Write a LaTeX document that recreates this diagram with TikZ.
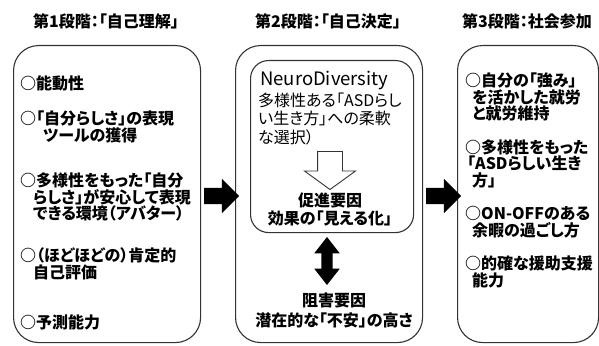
\documentclass[tikz,border=0pt]{standalone}
\usepackage{fontspec}
\setmainfont{Noto Sans CJK JP}[RawFeature=+palt]
\usetikzlibrary{shapes.arrows}
\begin{document}
\begin{tikzpicture}[x=1pt,y=-1pt]
\useasboundingbox (0,0) rectangle (599,345);
\tikzset{
  panel/.style={draw=black!80, line width=1.1pt, rounded corners=25pt, anchor=north west, inner sep=0pt},
  innerpanel/.style={draw=black!80, line width=1.1pt, rounded corners=18pt, anchor=north west, inner sep=0pt},
  bt/.style={anchor=base west, inner sep=0pt, font=\bfseries\fontsize{16}{17}\selectfont},
  nt/.style={anchor=base west, inner sep=0pt, font=\fontsize{16}{18}\selectfont},
  bc/.style={anchor=base, inner sep=0pt, font=\bfseries\fontsize{16}{17}\selectfont},
  ttl/.style={anchor=base, inner sep=0pt, font=\bfseries\fontsize{16}{17}\selectfont},
  bigarrow/.style={single arrow, fill=black, draw=none, inner xsep=0pt, inner ysep=8pt,
    single arrow head extend=9pt, single arrow head indent=0pt, single arrow tip angle=90,
    minimum height=35pt},
  hollowarrow/.style={single arrow, fill=white, draw=black!80, line width=0.9pt, inner xsep=0pt, inner ysep=12pt,
    single arrow head extend=13pt, single arrow head indent=0pt, single arrow tip angle=108,
    minimum height=38pt},
  updown/.style={double arrow, fill=black, draw=none, inner xsep=0pt, inner ysep=5.5pt,
    double arrow head extend=7pt, double arrow head indent=0pt, double arrow tip angle=76,
    minimum height=48pt}
}
% titles
\node[ttl] (t1) at (106,28) {第1段階：「自己理解」};
\node[ttl] (t2) at (328,28) {第2段階：「自己決定」};
\node[ttl] (t3) at (527,28) {第3段階：社会参加};
% panels
\node[panel, minimum width=187pt, minimum height=297pt] (p1) at (13,45) {};
\node[panel, minimum width=187pt, minimum height=297pt] (p2) at (235,45) {};
\node[innerpanel, minimum width=163pt, minimum height=172pt] (p2i) at (250,60) {};
\node[panel, minimum width=141pt, minimum height=297pt] (p3) at (457,45) {};
% panel 1 text
\node[bt] (a1) at (20,89) {○能動性};
\node[bt] (a2) at (20,124) {○「自分らしさ」の表現};
\node[bt] (a3) at (43,141) {ツールの獲得};
\node[bt] (a4) at (20,186) {○多様性をもった「自分};
\node[bt] (a5) at (33,203) {らしさ」が安心して表現};
\node[bt] (a6) at (33,219) {できる環境（アバター）};
\node[bt] (a7) at (20,261) {○（ほどほどの）肯定的};
\node[bt] (a8) at (33,278) {自己評価};
\node[bt] (a9) at (20,328) {○予測能力};
% panel 2 text
\node[anchor=base west, inner sep=0pt, font=\fontsize{18.5}{19}\selectfont] (nd) at (260,85) {NeuroDiversity};
\node[nt] (b1) at (258,106) {多様性ある「ASDらし};
\node[nt] (b2) at (258,124) {い生き方」への柔軟};
\node[nt] (b3) at (258,143) {な選択）};
\node[bc] (b4) at (330,206) {促進要因};
\node[bc] (b5) at (330,224) {効果の「見える化」};
\node[bc] (b6) at (334,306) {阻害要因};
\node[bc] (b7) at (334,326) {潜在的な「不安」の高さ};
% panel 3 text
\node[bt] (c1) at (465,86) {○自分の「強み」};
\node[bt] (c2) at (472,103) {を活かした就労};
\node[bt] (c3) at (472,119) {と就労維持};
\node[bt] (c4) at (465,153) {○多様性をもった};
\node[bt] (c5) at (467,169) {「ASDらしい生き};
\node[bt] (c6) at (472,186) {方」};
\node[bt] (c7) at (465,219) {○ON-OFFのある};
\node[bt] (c8) at (472,236) {余暇の過ごし方};
\node[bt] (c9) at (465,269) {○的確な援助支援};
\node[bt] (c10) at (472,286) {能力};
% arrows
\node[bigarrow] (ar1) at (217.5,196) {};
\node[bigarrow] (ar2) at (439.5,196) {};
\node[hollowarrow, rotate=-90] (ar3) at (330,166) {};
\node[updown, rotate=90] (ar4) at (327,261) {};
\end{tikzpicture}
\end{document}
